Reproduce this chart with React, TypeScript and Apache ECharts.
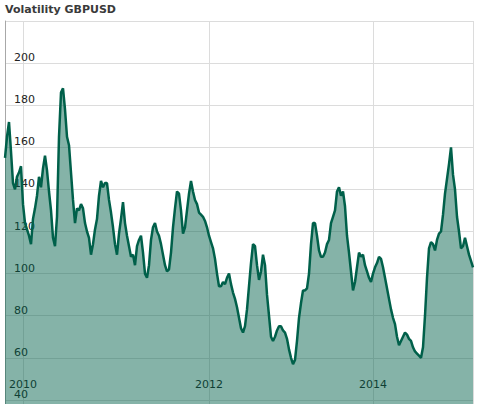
import React, { useEffect, useRef } from "react";
import * as echarts from "echarts";

const volatility = [
  155, 165, 172, 158, 143, 140, 146, 148, 151, 133,
  124, 121, 118, 114, 126, 131, 137, 146, 141, 150,
  156, 149, 139, 130, 117, 113, 127, 165, 186, 188,
  178, 165, 161, 148, 135, 124, 131, 130, 133, 131,
  124, 120, 117, 109, 114, 121, 126, 137, 144, 141,
  143, 143, 135, 129, 122, 114, 109, 119, 126, 134,
  124, 118, 113, 108, 109, 104, 113, 116, 118, 110,
  100, 98, 104, 116, 122, 124, 120, 118, 114, 109,
  104, 101, 102, 110, 122, 131, 139, 138, 130, 119,
  122, 130, 138, 144, 139, 135, 133, 129, 128, 127,
  125, 122, 118, 115, 112, 107, 100, 94, 94, 96,
  95, 98, 100, 95, 91, 88, 84, 79, 74, 72,
  75, 83, 94, 105, 114, 113, 104, 97, 101, 109,
  104, 90, 80, 70, 68, 70, 73, 75, 75, 73,
  72, 69, 64, 60, 57, 59, 68, 79, 86, 92,
  92, 93, 100, 114, 124, 124, 118, 111, 108, 108,
  110, 114, 116, 124, 127, 130, 139, 141, 137, 139,
  132, 118, 110, 101, 92, 96, 103, 110, 108, 109,
  104, 101, 98, 96, 100, 103, 105, 108, 107, 103,
  98, 93, 88, 83, 79, 76, 70, 66, 68, 70,
  72, 71, 69, 68, 65, 63, 62, 61, 60, 65,
  80, 98, 112, 115, 114, 111, 116, 119, 120, 128,
  138, 145, 152, 160, 147, 140, 127, 120, 112, 113,
  117, 113, 109, 106, 103,
];

const yearLabels = ["2010", "2012", "2014"];
const yearIndex = [9, 102, 184];

const FONT = "DejaVu Sans";

export default function App() {
  const ref = useRef<HTMLDivElement>(null);

  useEffect(() => {
    if (!ref.current) return;
    const chart = echarts.init(ref.current, undefined, { renderer: "svg" });
    const lastIndex = volatility.length - 1;
    chart.setOption({
      animation: false,
      backgroundColor: "#ffffff",
      title: {
        text: "Volatility GBPUSD",
        left: 5,
        top: 4,
        padding: 0,
        textStyle: {
          fontFamily: FONT,
          fontSize: 11,
          fontWeight: "bold",
          color: "#3a3a3a",
        },
      },
      grid: {
        left: 5,
        width: 468,
        top: 21,
        height: 421,
        containLabel: false,
        outerBoundsMode: "none",
      },
      xAxis: {
        type: "category",
        boundaryGap: false,
        data: volatility.map((_, i) => String(i)),
        axisLine: { show: false },
        axisTick: { show: false },
        axisLabel: {
          inside: true,
          margin: 52,
          interval: (i: number) => yearIndex.includes(i),
          formatter: (_v: string, i: number) => {
            const k = yearIndex.indexOf(i);
            return k >= 0 ? yearLabels[k] : "";
          },
          color: "#222",
          fontSize: 11,
          fontFamily: FONT,
        },
        splitLine: {
          show: true,
          interval: (i: number) => yearIndex.includes(i) || i === lastIndex,
          lineStyle: { color: "#dcdcdc", width: 1 },
        },
      },
      yAxis: {
        type: "value",
        min: 20,
        max: 220,
        interval: 20,
        axisLine: { show: true, lineStyle: { color: "#a8a8a8" } },
        axisTick: { show: false },
        axisLabel: {
          inside: true,
          margin: 9,
          verticalAlign: "bottom",
          showMaxLabel: false,
          showMinLabel: false,
          color: "#222",
          fontSize: 11,
          fontFamily: FONT,
        },
        splitLine: { show: true, lineStyle: { color: "#dcdcdc", width: 1 } },
      },
      series: [
        {
          type: "line",
          data: volatility,
          symbol: "none",
          lineStyle: { color: "#00604a", width: 2.5 },
          areaStyle: { color: "#00604a", opacity: 0.48, origin: "start" },
        },
      ],
    });
    return () => chart.dispose();
  }, []);

  return (
    <div
      ref={ref}
      style={{ position: "fixed", left: 0, top: 0, width: 479, height: 404 }}
    />
  );
}
